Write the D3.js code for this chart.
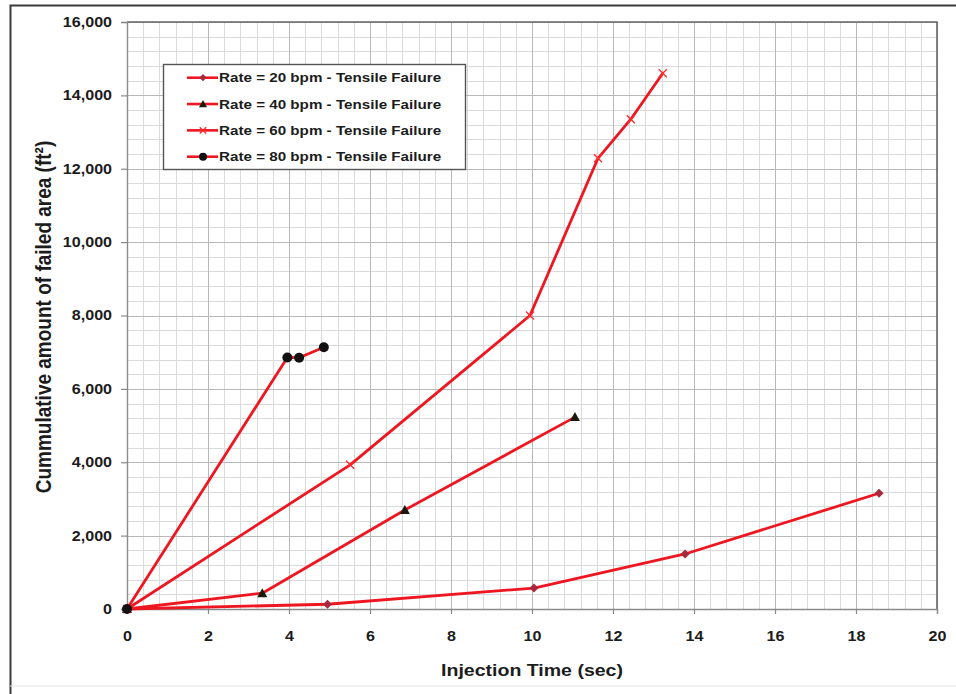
<!DOCTYPE html>
<html>
<head>
<meta charset="utf-8">
<script src="https://cdn.jsdelivr.net/npm/d3@7"></script>
<style>
  body { margin: 0; background: #fff; }
  svg { display: block; }
  text { font-family: "Liberation Sans", Arial, sans-serif; font-weight: bold; fill: #1c1c1c; }
</style>
</head>
<body>
<svg id="chart" width="956" height="694"></svg>
<script>
// Series: injection time (sec) and cumulative failed area (ft²) for each pump rate
const seriesLabels = [
  "Rate = 20 bpm - Tensile Failure",
  "Rate = 40 bpm - Tensile Failure",
  "Rate = 60 bpm - Tensile Failure",
  "Rate = 80 bpm - Tensile Failure"
];
const time20 = [0, 4.95, 10.05, 13.78, 18.57];
const area20 = [0, 130, 570, 1500, 3155];
const time40 = [0, 3.34, 6.86, 11.06];
const area40 = [0, 430, 2700, 5230];
const time60 = [0, 5.51, 9.95, 11.63, 12.44, 13.23];
const area60 = [0, 3930, 8000, 12285, 13350, 14605];
const time80 = [0, 3.96, 4.25, 4.86];
const area80 = [0, 6855, 6850, 7135];

const xTickValues = [0, 2, 4, 6, 8, 10, 12, 14, 16, 18, 20];
const yTickValues = [0, 2000, 4000, 6000, 8000, 10000, 12000, 14000, 16000];

const xTitle = "Injection Time (sec)";
const yTitle = "Cummulative amount of failed area (ft²)";

// marker styling per series
const markerKinds = ["diamond", "triangle", "cross", "circle"];
const markerColors = ["#a8283e", "#1a1a0a", "#ff2a2a", "#111111"];
const lineColor = "#ee1620";
const stretch = 1.15; // horizontal stretch applied to all lettering

const series = [
  { t: time20, a: area20 },
  { t: time40, a: area40 },
  { t: time60, a: area60 },
  { t: time80, a: area80 }
].map((s, i) => ({
  label: seriesLabels[i],
  kind: markerKinds[i],
  color: markerColors[i],
  points: s.t.map((t, j) => ({ t, a: s.a[j] }))
}));

const svg = d3.select("#chart");
const x = d3.scaleLinear().domain([0, 20]).range([127, 937]);
const y = d3.scaleLinear().domain([0, 16000]).range([609, 22]);

// outer frame
svg.append("path")
  .attr("d", "M10.5,700 L10.5,5.5 L960,5.5")
  .attr("fill", "none").attr("stroke", "#3a3a3a").attr("stroke-width", 2);
svg.append("line")
  .attr("x1", 10).attr("x2", 960).attr("y1", 686).attr("y2", 686)
  .attr("stroke", "#e4e4e4").attr("stroke-width", 1);

// gridlines: minor every 0.4 s / 400 ft², major at tick values
const gx = svg.append("g");
const minorX = d3.range(0, 20.001, 0.4);
const minorY = d3.range(0, 16000.1, 400);
gx.selectAll(".mx").data(minorX).join("line")
  .attr("x1", d => Math.round(x(d)) + 0.5).attr("x2", d => Math.round(x(d)) + 0.5)
  .attr("y1", y(0)).attr("y2", y(16000))
  .attr("stroke", "#dadada").attr("stroke-width", 1);
gx.selectAll(".my").data(minorY).join("line")
  .attr("y1", d => Math.round(y(d)) + 0.5).attr("y2", d => Math.round(y(d)) + 0.5)
  .attr("x1", x(0)).attr("x2", x(20))
  .attr("stroke", "#dadada").attr("stroke-width", 1);
gx.selectAll(".Mx").data(xTickValues).join("line")
  .attr("x1", d => Math.round(x(d)) + 0.5).attr("x2", d => Math.round(x(d)) + 0.5)
  .attr("y1", y(0)).attr("y2", y(16000))
  .attr("stroke", "#b8b8b8").attr("stroke-width", 1);
gx.selectAll(".My").data(yTickValues).join("line")
  .attr("y1", d => Math.round(y(d)) + 0.5).attr("y2", d => Math.round(y(d)) + 0.5)
  .attr("x1", x(0)).attr("x2", x(20))
  .attr("stroke", "#b8b8b8").attr("stroke-width", 1);

// plot frame (top and right edges)
svg.append("path")
  .attr("d", `M${x(0)},${y(16000)} L${x(20)},${y(16000)} L${x(20)},${y(0)}`)
  .attr("fill", "none").attr("stroke", "#666").attr("stroke-width", 1.6);

// axes
const xAxis = svg.append("g")
  .attr("transform", `translate(0,${y(0)})`)
  .call(d3.axisBottom(x).tickValues(xTickValues).tickSize(5).tickPadding(17).tickFormat(d3.format("d")));
const yAxis = svg.append("g")
  .attr("transform", `translate(${x(0)},0)`)
  .call(d3.axisLeft(y).tickValues(yTickValues).tickSize(6).tickPadding(7).tickFormat(d3.format(",")));
[xAxis, yAxis].forEach(g => {
  g.select(".domain").attr("stroke", "#8a8a8a").attr("stroke-width", 1.4);
  g.selectAll(".tick line").attr("stroke", "#8a8a8a").attr("stroke-width", 1.2);
  g.selectAll(".tick text")
    .attr("font-size", 14).attr("font-family", null)
    .attr("fill", "#1c1c1c")
    .attr("transform", `scale(${stretch},1)`);
});

// axis titles
svg.append("text")
  .attr("transform", `translate(532,676) scale(${stretch},1)`)
  .attr("text-anchor", "middle").attr("font-size", 17)
  .text(xTitle);
svg.append("text")
  .attr("transform", `translate(43,317) scale(${stretch},1) rotate(-90)`)
  .attr("text-anchor", "middle").attr("dy", "0.36em").attr("font-size", 19)
  .text(yTitle);

// marker drawing
function drawMarker(sel, kind, color, k = 1) {
  if (kind === "diamond") {
    sel.append("path").attr("d", `M0,${-4.5 * k} L${4.5 * k},0 L0,${4.5 * k} L${-4.5 * k},0 Z`).attr("fill", color);
  } else if (kind === "triangle") {
    sel.append("path").attr("d", `M0,${-5 * k} L${5 * k},${4 * k} L${-5 * k},${4 * k} Z`).attr("fill", color);
  } else if (kind === "cross") {
    sel.append("path").attr("d", `M${-4 * k},${-4 * k} L${4 * k},${4 * k} M${-4 * k},${4 * k} L${4 * k},${-4 * k}`)
      .attr("stroke", color).attr("stroke-width", 1.3).attr("fill", "none");
  } else {
    sel.append("circle").attr("r", 5 * k).attr("fill", color);
  }
}

// series lines and markers
const line = d3.line().x(d => x(d.t)).y(d => y(d.a));
const plot = svg.append("g");
series.forEach(s => {
  plot.append("path").datum(s.points)
    .attr("d", line).attr("fill", "none")
    .attr("stroke", lineColor).attr("stroke-width", 2.8)
    .attr("stroke-linejoin", "round");
});
series.forEach(s => {
  plot.selectAll(null).data(s.points).join("g")
    .attr("transform", d => `translate(${x(d.t)},${y(d.a)})`)
    .each(function () { drawMarker(d3.select(this), s.kind, s.color); });
});

// legend
const legend = svg.append("g");
legend.append("rect")
  .attr("x", 163.5).attr("y", 64.5).attr("width", 302).attr("height", 105)
  .attr("fill", "#fff").attr("stroke", "#555").attr("stroke-width", 1.4);
const rowY = d3.scalePoint().domain(d3.range(series.length)).range([77.7, 156.7]);
series.forEach((s, i) => {
  const row = legend.append("g").attr("transform", `translate(0,${rowY(i)})`);
  row.append("line").attr("x1", 187).attr("x2", 218).attr("y1", 0).attr("y2", 0)
    .attr("stroke", lineColor).attr("stroke-width", 2.6);
  drawMarker(row.append("g").attr("transform", "translate(203,0)"), s.kind, s.color, 0.8);
  row.append("text")
    .attr("transform", `translate(219,4.6) scale(${stretch + 0.02},1)`)
    .attr("font-size", 13)
    .text(s.label);
});
</script>
</body>
</html>
